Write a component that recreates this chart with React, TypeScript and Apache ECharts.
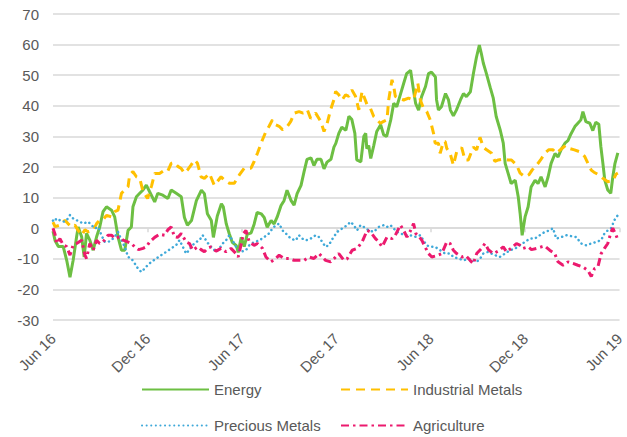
import React, { useEffect, useRef } from "react";
import * as echarts from "echarts";

// x = months since June 2016, y = value
const tickLabels = ["Jun 16", "Dec 16", "Jun 17", "Dec 17", "Jun 18", "Dec 18", "Jun 19"];
const seriesNames = ["Energy", "Industrial Metals", "Precious Metals", "Agriculture"];

const energy = [[0,-1],[0.13,-4],[0.34,-6],[0.65,-6],[0.87,-10.5],[1.08,-16],[1.28,-10.5],[1.5,-2.8],[1.6,0.4],[1.82,-2.8],[1.98,-9.4],[2.13,-1.7],[2.34,-3.9],[2.55,-7.2],[2.77,-2.8],[2.97,0.4],[3.18,5.4],[3.4,7],[3.72,5.9],[3.92,3.7],[4.13,-2.8],[4.35,-7.2],[4.56,-7.2],[4.77,-0.7],[4.98,0.4],[5.08,7],[5.3,10.3],[5.51,11.4],[5.72,12.5],[5.93,14.1],[6.14,11.9],[6.46,8.6],[6.66,11.4],[6.98,10.8],[7.3,9.7],[7.51,12.5],[7.83,11.4],[8.15,10.3],[8.35,3.5],[8.54,1],[8.8,2.5],[9.11,9],[9.43,12.4],[9.62,11.3],[9.81,4.7],[10.06,2.5],[10.19,-3],[10.44,4],[10.7,8],[10.82,7],[11.01,1.4],[11.2,-1.8],[11.39,-4.6],[11.65,-5.7],[11.77,-7.9],[11.96,-3],[12.15,-6],[12.34,-2],[12.59,-1.5],[12.78,1.3],[12.97,5.2],[13.23,4.7],[13.42,3.5],[13.61,0.3],[13.86,2.5],[14.05,1.4],[14.24,3.6],[14.49,7.4],[14.68,9],[14.87,12.4],[15.13,9],[15.32,7.5],[15.51,11.3],[15.76,14],[15.95,18.4],[16.14,22.5],[16.39,23],[16.58,20.5],[16.77,22.5],[17.03,22.5],[17.22,19.4],[17.41,21.6],[17.66,22.5],[17.85,26.5],[17.97,27.7],[18.16,31],[18.35,33],[18.61,32],[18.8,36.6],[18.99,35.5],[19.18,31],[19.3,22.3],[19.56,21.7],[19.75,30],[19.87,31],[19.94,26],[20.06,27],[20.19,22.8],[20.38,27],[20.57,31.6],[20.82,33.8],[21.01,30.5],[21.2,30],[21.46,35.4],[21.65,40.8],[21.84,39.7],[22.09,44],[22.28,47.3],[22.47,50.5],[22.72,51.6],[22.91,45],[23.04,40.8],[23.23,38.6],[23.42,43],[23.67,46.3],[23.86,50.5],[24.05,51],[24.3,49.4],[24.37,42],[24.49,38.6],[24.68,39.7],[24.94,44],[25.13,41.9],[25.25,38.6],[25.44,36.7],[25.63,38.6],[25.89,41.9],[26.08,44],[26.27,43],[26.52,44.6],[26.71,50.5],[26.9,55.7],[27.09,59.8],[27.22,57],[27.34,54],[27.53,50.7],[27.78,46],[27.97,42.6],[28.16,36.5],[28.42,32],[28.61,27.8],[28.73,21.2],[28.92,17.9],[29.11,14.6],[29.37,15.7],[29.56,10.3],[29.68,4.9],[29.81,-2.3],[30,3.8],[30.19,7],[30.38,13.5],[30.63,15.7],[30.82,14.6],[31.01,16.8],[31.27,13.5],[31.46,16.8],[31.65,21.2],[31.9,24.4],[32.09,23.3],[32.28,25.6],[32.53,27.8],[32.72,28.6],[32.91,30.8],[33.16,33.2],[33.35,34.3],[33.54,35.4],[33.67,38.1],[33.86,34.8],[34.11,34.3],[34.3,31.9],[34.49,34.6],[34.68,34],[34.81,26.7],[34.94,21.2],[35.06,15.7],[35.25,12.5],[35.44,11.4],[35.57,16.8],[35.7,21],[35.89,24.6]];

const industrialMetals = [[0,2],[0.13,0.5],[0.44,1],[0.76,2.6],[0.95,1.5],[1.18,0.4],[1.39,1],[1.6,-0.7],[1.82,-2.3],[2.03,-0.5],[2.23,-1.2],[2.55,-0.7],[2.77,1.5],[2.97,2.6],[3.18,2.8],[3.4,4.2],[3.72,3.7],[3.92,5.4],[4.13,5.9],[4.35,11.4],[4.56,12.5],[4.77,13.6],[4.87,17.4],[5.08,18.5],[5.3,16.8],[5.51,16.3],[5.72,12],[6.01,9.7],[6.27,14],[6.46,17.9],[6.77,17.9],[7.03,18.8],[7.28,18.5],[7.51,21.2],[7.72,21.5],[7.93,20.2],[8.15,19.5],[8.35,18],[8.54,19],[8.78,20.7],[8.99,22.3],[9.18,21.2],[9.41,16.8],[9.62,16.3],[9.94,17.9],[10.25,14],[10.68,16.8],[10.95,15.5],[11.2,14.7],[11.52,14.7],[11.84,17.4],[12.15,19.6],[12.58,19.6],[12.78,21.8],[12.99,24.5],[13.31,28.9],[13.53,31.6],[13.73,33.3],[13.94,35.4],[14.16,33.8],[14.37,33.3],[14.58,32.2],[14.81,32.7],[15.11,34.9],[15.32,37.6],[15.63,38.1],[15.89,37.6],[16.16,38.7],[16.37,35.9],[16.69,37.6],[17.01,34.9],[17.22,31.6],[17.42,34.3],[17.64,38.7],[17.85,42],[17.96,44.7],[18.16,43.6],[18.37,41.9],[18.59,43.6],[18.8,43.1],[18.99,45.2],[19.22,43.1],[19.43,38.7],[19.64,44.7],[19.75,43.1],[19.96,40.3],[20.17,39.2],[20.38,36.5],[20.59,35.4],[20.8,34.3],[21.01,34.9],[21.22,35.4],[21.33,41.9],[21.54,48.5],[21.65,46.3],[21.75,43.1],[21.96,42.5],[22.28,41.9],[22.59,42.5],[22.91,41.9],[23.18,47.4],[23.34,41.9],[23.54,39.2],[23.75,38.1],[23.97,35.4],[24.18,31],[24.28,27.8],[24.49,27.8],[24.6,24.5],[24.81,28.3],[24.92,28.3],[25.02,26.1],[25.23,24.5],[25.44,20.6],[25.65,25],[25.76,25.6],[25.97,26.3],[26.18,22.3],[26.39,22.3],[26.71,26.5],[26.92,25.6],[27.13,29.7],[27.34,26.5],[27.55,25.6],[27.87,24.5],[28.08,21.8],[28.29,22.3],[28.61,22.6],[28.92,22.3],[29.13,22.3],[29.45,20.7],[29.68,18],[29.98,16.8],[30.25,17.5],[30.44,19],[30.72,20.5],[30.98,22.3],[31.25,24.5],[31.49,25.6],[31.77,25.6],[31.98,24.5],[32.28,25.8],[32.56,27],[32.85,26],[33.13,25.6],[33.46,25],[33.78,23.5],[33.99,21.2],[34.2,19],[34.37,18.3],[34.62,17.6],[34.94,16.3],[35.25,15.2],[35.57,15.5],[35.78,17.7],[35.89,18]];

const preciousMetals = [[0,2.5],[0.06,2.1],[0.23,3.2],[0.44,2.6],[0.65,2.1],[0.87,2.6],[1.08,4.3],[1.28,3.2],[1.5,2.6],[1.71,2.1],[1.92,1.5],[2.23,2.1],[2.45,1],[2.66,-0.1],[2.87,0.4],[3.08,-2.3],[3.29,-4.5],[3.5,-4.5],[3.72,-3.9],[3.92,-2.8],[4.13,-1.2],[4.35,-3.9],[4.56,-6.1],[4.77,-9.4],[4.98,-9.9],[5.19,-11.5],[5.4,-13.2],[5.61,-14.3],[5.82,-13.2],[6.03,-12],[6.25,-11],[6.56,-9.9],[6.88,-8.8],[7.2,-7.7],[7.51,-6.6],[7.83,-5.5],[8.04,-3.9],[8.25,-6.1],[8.46,-8.3],[8.67,-7],[8.86,-5.6],[9.09,-4.5],[9.3,-4],[9.51,-2.3],[9.73,-4],[9.94,-5.6],[10.15,-6.6],[10.36,-7.7],[10.57,-6.6],[10.78,-5],[10.99,-4],[11.2,-2.3],[11.41,-4],[11.63,-6.1],[11.94,-7.7],[12.26,-7.2],[12.47,-5.6],[12.78,-4.5],[13.1,-4],[13.42,-2.9],[13.73,-1.7],[13.94,-0.1],[14.16,1],[14.37,1.5],[14.58,-0.7],[14.79,-1.7],[15.11,-3.4],[15.42,-4],[15.63,-2.3],[15.84,-3.4],[16.06,-4],[16.37,-3.4],[16.69,-2.3],[16.9,-2.9],[17.11,-4.5],[17.32,-6.1],[17.53,-5.5],[17.74,-3.6],[18.06,-1.2],[18.37,-0.1],[18.69,1],[18.91,2.1],[19.11,1],[19.32,-0.7],[19.54,1],[19.75,0.4],[20.06,-0.7],[20.38,-1.2],[20.7,0.4],[21.01,1],[21.22,0.4],[21.44,1],[21.65,-0.1],[21.85,-1.2],[22.07,-1.7],[22.39,-2.3],[22.7,-2.3],[23.02,-2.8],[23.34,-2.3],[23.54,-4],[23.75,-5.6],[23.97,-6.1],[24.28,-6.1],[24.6,-7.2],[24.92,-8.3],[25.23,-8.3],[25.44,-9.4],[25.76,-9.9],[26.08,-10.5],[26.39,-10],[26.71,-10.5],[26.92,-11],[27.13,-10],[27.34,-8.3],[27.66,-7.7],[27.87,-8.3],[28.08,-8.8],[28.39,-9.4],[28.72,-8.3],[29.03,-7.2],[29.35,-6.7],[29.66,-5.6],[29.98,-4.5],[30.3,-3.4],[30.61,-3.4],[30.93,-2.3],[31.25,-1.2],[31.56,-0.7],[31.77,0],[31.98,-3.4],[32.3,-2.9],[32.61,-2.3],[32.93,-2.6],[33.25,-2.9],[33.56,-5],[33.88,-5.6],[34.2,-5],[34.51,-4.5],[34.83,-3.9],[35.04,-1.7],[35.25,-0.7],[35.46,0],[35.68,2.7],[35.89,4.3]];

const agriculture = [[0,0],[0.13,-2],[0.23,-5],[0.44,-3.4],[0.65,-5.5],[0.87,-6],[1.08,-8.8],[1.28,-5.5],[1.5,-5],[1.82,-3.9],[2.03,-8.8],[2.13,-9.9],[2.34,-5],[2.55,-7.2],[2.77,-4],[2.97,-5],[3.18,-4.5],[3.5,-2.3],[3.73,-2.3],[3.92,-3.4],[4.24,-2.8],[4.45,-3.9],[4.75,-4.5],[4.98,-5],[5.19,-6.1],[5.44,-7],[5.72,-6.6],[5.93,-6.1],[6.14,-4.5],[6.46,-3],[6.77,-2],[7.09,-2.3],[7.3,-0.5],[7.51,0.4],[7.72,-2.8],[7.93,-3],[8.15,-1.7],[8.46,-4.5],[8.67,-5],[8.88,-7.2],[9.2,-6.1],[9.41,-7],[9.62,-7.7],[9.83,-6.5],[10.04,-6.1],[10.36,-7.5],[10.68,-6.6],[10.99,-7.7],[11.31,-6.6],[11.63,-8.3],[11.77,-9.4],[11.94,-5.6],[12.11,-1.7],[12.26,-0.7],[12.47,-4.5],[12.78,-5.6],[12.99,-5],[13.31,-6.6],[13.53,-9.4],[13.84,-11],[14.16,-9.9],[14.37,-8.8],[14.68,-9.9],[15,-9.9],[15.32,-10.5],[15.63,-10.5],[15.95,-10.5],[16.27,-9.4],[16.58,-9.9],[16.9,-8.3],[17.11,-9.4],[17.32,-10.5],[17.64,-11],[17.85,-10],[18.16,-8.3],[18.48,-10.5],[18.69,-10],[19.01,-7.2],[19.32,-6.6],[19.64,-4.5],[19.96,-0.7],[20.17,-1.2],[20.49,-3.4],[20.7,-4.5],[20.91,-6.1],[21.22,-2.9],[21.54,-3.4],[21.75,-2.3],[22.07,1],[22.28,-0.7],[22.49,-2.9],[22.7,-1],[22.91,1.5],[23.06,-1.8],[23.23,-2.5],[23.44,-4],[23.65,-6.2],[23.86,-8.3],[24.07,-9.4],[24.37,-9],[24.7,-8.3],[25.02,-4.5],[25.23,-5],[25.44,-7.2],[25.65,-8.3],[25.97,-9.4],[26.23,-9],[26.5,-10.5],[26.71,-11.6],[26.92,-8.3],[27.23,-6.6],[27.45,-5],[27.66,-7],[27.97,-8.3],[28.29,-7.5],[28.61,-6.1],[28.82,-7.7],[29.11,-6.6],[29.45,-5],[29.66,-5.5],[29.87,-6.6],[30.19,-6.1],[30.4,-7],[30.72,-6.6],[31.03,-6.1],[31.25,-5.8],[31.56,-7.2],[31.88,-8.3],[32.09,-11],[32.41,-12.1],[32.72,-11],[33.04,-11.5],[33.35,-12.1],[33.67,-12.7],[33.99,-13.8],[34.2,-15.8],[34.41,-13.2],[34.62,-12.7],[34.83,-8.3],[35.04,-6.6],[35.25,-5],[35.46,-1.2],[35.57,0],[35.78,-2.3],[35.89,-3.9]];

const TEXT = "#595959";
const GRID = "#d9d9d9";
const FONT = "'Liberation Sans', Arial, sans-serif";

export default function App() {
  const ref = useRef<HTMLDivElement>(null);
  useEffect(() => {
    if (!ref.current) return;
    const chart = echarts.init(ref.current, undefined, { renderer: "svg" });
    const legendItem = (name: string, left: number, top: number) => ({
      show: true,
      data: [name],
      left,
      top,
      orient: "horizontal",
      itemWidth: 67,
      itemHeight: 14,
      selectedMode: false,
      itemStyle: { opacity: 0 },
      textStyle: { color: TEXT, fontSize: 15, fontFamily: FONT },
    });
    chart.setOption({
      animation: false,
      textStyle: { fontFamily: FONT },
      grid: { left: 53, right: 5, top: 14, bottom: 117, containLabel: false },
      legend: [
        legendItem(seriesNames[0], 136, 377),
        legendItem(seriesNames[1], 335, 377),
        legendItem(seriesNames[2], 136, 413),
        legendItem(seriesNames[3], 335, 413),
      ],
      xAxis: [
        {
          type: "value",
          min: 0,
          max: 36,
          interval: 6,
          position: "bottom",
          axisLine: { show: false, onZero: false },
          axisTick: { show: false },
          splitLine: { show: false },
          axisLabel: {
            rotate: 45,
            margin: 16,
            color: TEXT,
            fontSize: 15,
            fontFamily: FONT,
            showMinLabel: true,
            showMaxLabel: true,
            formatter: (v: number) => tickLabels[Math.round(v / 6)] ?? "",
          },
        },
        {
          type: "value",
          min: 0,
          max: 36,
          interval: 6,
          position: "bottom",
          axisLine: { show: true, onZero: true, lineStyle: { color: GRID, width: 1.5 } },
          axisTick: { show: true, length: 4, lineStyle: { color: GRID, width: 1.5 } },
          axisLabel: { show: false },
          splitLine: { show: false },
        },
      ],
      yAxis: {
        type: "value",
        min: -30,
        max: 70,
        interval: 10,
        axisLine: { show: false },
        axisTick: { show: false },
        axisLabel: { color: TEXT, fontSize: 15, fontFamily: FONT, margin: 14 },
        splitLine: { lineStyle: { color: GRID, width: 1.5 } },
      },
      series: [
        {
          name: seriesNames[0],
          type: "line",
          data: energy,
          symbol: "none",
          showSymbol: false,
          color: "#6dbf43",
          lineStyle: { color: "#6dbf43", width: 3, type: "solid" },
          z: 2,
        },
        {
          name: seriesNames[1],
          type: "line",
          data: industrialMetals,
          symbol: "none",
          showSymbol: false,
          color: "#ffc000",
          lineStyle: { color: "#ffc000", width: 3, type: [9, 6] },
          z: 3,
        },
        {
          name: seriesNames[2],
          type: "line",
          data: preciousMetals,
          symbol: "none",
          showSymbol: false,
          color: "#3fa9d9",
          lineStyle: { color: "#3fa9d9", width: 2.5, type: [0.1, 4.5], cap: "round" },
          z: 4,
        },
        {
          name: seriesNames[3],
          type: "line",
          data: agriculture,
          symbol: "none",
          showSymbol: false,
          color: "#ec1a6e",
          lineStyle: { color: "#ec1a6e", width: 3, type: [8, 4, 2.5, 4] },
          z: 5,
        },
      ],
    });
    return () => chart.dispose();
  }, []);
  return (
    <div
      ref={ref}
      style={{ position: "fixed", left: 0, top: 0, width: 627, height: 437, background: "#fff" }}
    />
  );
}
